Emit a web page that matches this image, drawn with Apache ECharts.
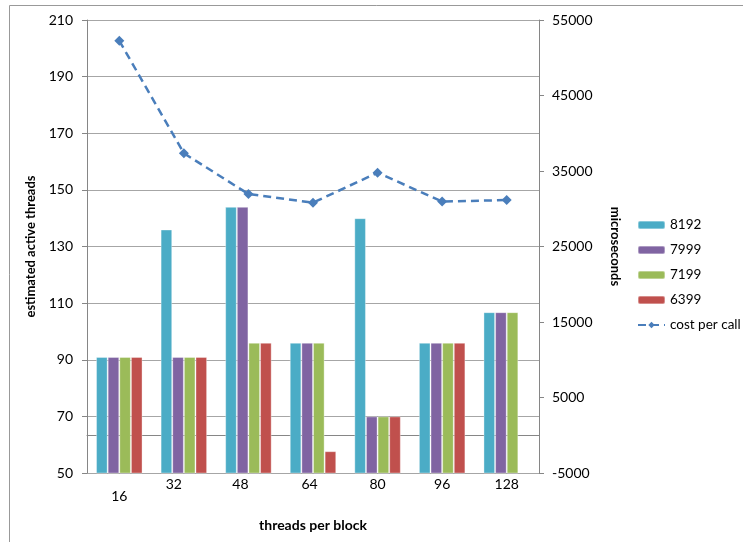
<!DOCTYPE html>
<html>
<head>
<meta charset="utf-8">
<script src="https://cdn.jsdelivr.net/npm/echarts@6/dist/echarts.min.js"></script>
<style>html,body{margin:0;padding:0;background:#fff}#c{width:743px;height:542px}</style>
</head>
<body>
<div id="c"></div>
<script>
var categories = ['16', '32', '48', '64', '80', '96', '128'];
var s8192 = [91, 136, 144, 96, 140, 96, 106.8];
var s7999 = [91, 91, 144, 96, 70, 96, 106.8];
var s7199 = [91, 91, 96, 96, 70, 96, 106.8];
var s6399 = [91, 91, 96, 57.7, 70, 96, null];
var costPerCall = [52250, 37350, 31950, 30800, 34780, 30950, 31150];
var rightTicks = [-5000, 5000, 15000, 25000, 35000, 45000, 55000];

var FONT = 'Lato, "Open Sans", sans-serif';
var chart = echarts.init(document.getElementById('c'));
var barStyle = function (c) {
  return { type: 'bar', barGap: '0%', barCategoryGap: '28%', itemStyle: { color: c, borderColor: 'rgba(255,255,255,0.35)', borderWidth: 1 } };
};
var series = [
  Object.assign(barStyle('#4BACC6'), { name: '8192', data: s8192 }),
  Object.assign(barStyle('#8064A2'), { name: '7999', data: s7999 }),
  Object.assign(barStyle('#9BBB59'), { name: '7199', data: s7199 }),
  Object.assign(barStyle('#C0504D'), { name: '6399', data: s6399 }),
  {
    name: 'cost per call', type: 'line', yAxisIndex: 1, data: costPerCall,
    symbol: 'diamond', symbolSize: 10,
    lineStyle: { color: '#4A7EBB', width: 2.5, type: [8, 5] },
    itemStyle: { color: '#4A7EBB' }
  }
];
var lblRich = { fontSize: 14, color: '#000', fontFamily: FONT };
chart.setOption({
  animation: false,
  textStyle: { fontFamily: FONT },
  graphic: [{ type: 'rect', shape: { x: 9.5, y: 5.5, width: 800, height: 600 }, style: { fill: 'none', stroke: '#999', lineWidth: 1 } }],
  grid: { left: 87, right: 204, top: 20, bottom: 69, containLabel: false },
  legend: {
    orient: 'vertical', left: 637, top: 218, padding: 0, itemWidth: 27, itemHeight: 8, itemGap: 11,
    textStyle: { fontSize: 13.5, color: '#000', fontFamily: FONT },
    data: ['8192', '7999', '7199', '6399', 'cost per call']
  },
  xAxis: {
    type: 'category', data: categories,
    name: 'threads per block', nameLocation: 'middle', nameGap: 45,
    nameTextStyle: { fontWeight: 'bold', fontSize: 14, color: '#000', fontFamily: FONT },
    axisLine: { lineStyle: { color: '#868686' } },
    axisTick: { length: 5, lineStyle: { color: '#868686' } },
    axisLabel: {
      color: '#000', fontSize: 14, margin: 4, fontFamily: FONT,
      formatter: function (v, i) {
        if (i === 0) return '{lo|' + v + '}';
        if (i === 1) return '{l20|' + v + '}';
        if (i === 2) return '{l16|' + v + '}';
        if (i === 3) return '{l7|' + v + '}';
        return v;
      },
      rich: {
        lo: Object.assign({ padding: [12, 0, 0, 0] }, lblRich),
        l20: Object.assign({ padding: [0, 20, 0, 0] }, lblRich),
        l16: Object.assign({ padding: [0, 16, 0, 0] }, lblRich),
        l7: Object.assign({ padding: [0, 7, 0, 0] }, lblRich)
      }
    }
  },
  yAxis: [
    {
      type: 'value', min: 50, max: 210, interval: 20,
      name: 'estimated active threads', nameLocation: 'middle', nameGap: 49, nameRotate: 90,
      nameTextStyle: { fontWeight: 'bold', fontSize: 13, color: '#000', fontFamily: FONT },
      axisLine: { show: true, lineStyle: { color: '#868686' } },
      axisTick: { show: true, length: 5, lineStyle: { color: '#868686' } },
      axisLabel: { color: '#000', fontSize: 14, margin: 14, fontFamily: FONT },
      splitLine: { lineStyle: { color: '#A6A6A6', width: 1 } }
    },
    {
      type: 'value', min: -5000, max: 55000, position: 'right',
      name: 'microseconds', nameLocation: 'middle', nameGap: 70, nameRotate: -90,
      nameTextStyle: { fontWeight: 'bold', fontSize: 13, color: '#000', fontFamily: FONT },
      axisLine: { show: true, lineStyle: { color: '#868686' } },
      axisTick: { show: true, length: 5, customValues: rightTicks, lineStyle: { color: '#868686' } },
      axisLabel: { color: '#000', fontSize: 14, margin: 13, customValues: rightTicks, fontFamily: FONT,
        formatter: function (v) { return String(v); } },
      splitLine: { show: false }
    }
  ],
  series: series
});
</script>
</body>
</html>
